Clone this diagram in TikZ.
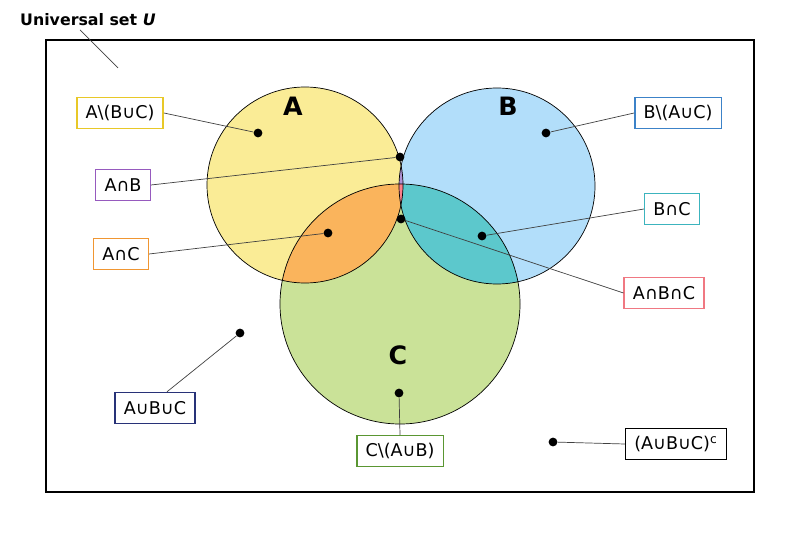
\documentclass[tikz,border=0pt]{standalone}
\usepackage{fontspec}
\setmainfont{DejaVu Sans}
\usepackage{tikz}

\definecolor{cA}{RGB}{250,236,150}
\definecolor{cB}{RGB}{178,222,250}
\definecolor{cC}{RGB}{202,226,152}
\definecolor{cAB}{RGB}{176,146,212}
\definecolor{cAC}{RGB}{250,180,92}
\definecolor{cBC}{RGB}{92,200,204}
\definecolor{cABC}{RGB}{250,128,140}
\definecolor{bA}{RGB}{232,200,40}
\definecolor{bAB}{RGB}{150,90,190}
\definecolor{bAC}{RGB}{240,150,50}
\definecolor{bU}{RGB}{40,50,120}
\definecolor{bC}{RGB}{90,150,50}
\definecolor{bB}{RGB}{60,130,200}
\definecolor{bBC}{RGB}{60,180,190}
\definecolor{bABC}{RGB}{240,120,130}

\tikzset{
    lbl/.style={draw=#1, thick, fill=white, minimum height=0.62cm, inner xsep=5pt, font=\fontsize{10}{12}\selectfont},
    dot/.style={fill=black, circle, inner sep=0pt, minimum size=5pt},
    pin/.style={black!75, thin}
}

\begin{document}
\begin{tikzpicture}[x=0.02cm, y=-0.02cm]

    % Frame of the picture
    \useasboundingbox (0,0) rectangle (800,533);

    % Circles
    \coordinate (cenA) at (305,185);
    \coordinate (cenB) at (497,186);
    \coordinate (cenC) at (400,304);
    \def\rA{98}
    \def\rB{98}
    \def\rC{120}

    % Universal set
    \draw[thick] (46,40) rectangle (754,492);
    \node[anchor=west, font=\bfseries\fontsize{9}{11}\selectfont] (uset) at (14,20) {Universal set \textit{U}};
    \coordinate (uend) at (118,68);
    \draw[pin] (80,30) -- (uend);

    % Region fills
    \fill[cA] (cenA) circle (\rA);
    \fill[cB] (cenB) circle (\rB);
    \fill[cC] (cenC) circle (\rC);
    \begin{scope}
        \clip (cenA) circle (\rA);
        \fill[cAB] (cenB) circle (\rB);
        \fill[cAC] (cenC) circle (\rC);
    \end{scope}
    \begin{scope}
        \clip (cenB) circle (\rB);
        \fill[cBC] (cenC) circle (\rC);
        \clip (cenA) circle (\rA);
        \fill[cABC] (cenC) circle (\rC);
    \end{scope}
    \draw (cenA) circle (\rA);
    \draw (cenB) circle (\rB);
    \draw (cenC) circle (\rC);

    % Set names
    \node[font=\bfseries\Large] at (293,106) {A};
    \node[font=\bfseries\Large] at (508,106) {B};
    \node[font=\bfseries\Large] at (398,355) {C};

    % Dots
    \node[dot] (dA) at (258,133) {};
    \node[dot] (dAB) at (400,157) {};
    \node[dot] (dAC) at (328,233) {};
    \node[dot] (dB) at (546,133) {};
    \node[dot] (dBC) at (482,236) {};
    \node[dot] (dABC) at (401,219) {};
    \node[dot] (dU) at (240,333) {};
    \node[dot] (dC) at (399,393) {};
    \node[dot] (dN) at (553,442) {};

    % Labels
    \node[lbl=bA] (lA) at (120,113) {A\textbackslash(B∪C)};
    \node[lbl=bAB] (lAB) at (123,185) {A∩B};
    \node[lbl=bAC] (lAC) at (121,254) {A∩C};
    \node[lbl=bU] (lU) at (155,408) {A∪B∪C};
    \node[lbl=bC] (lC) at (400,451) {C\textbackslash(A∪B)};
    \node[lbl=black] (lN) at (676,444) {(A∪B∪C)$^{\mathrm{c}}$};
    \node[lbl=bB] (lB) at (678,113) {B\textbackslash(A∪C)};
    \node[lbl=bBC] (lBC) at (672,209) {B∩C};
    \node[lbl=bABC] (lABC) at (664,293) {A∩B∩C};

    % Pointers
    \draw[pin] (lA.east) -- (dA);
    \draw[pin] (lAB.east) -- (dAB);
    \draw[pin] (lAC.east) -- (dAC);
    \draw[pin] (lB.west) -- (dB);
    \draw[pin] (lBC.west) -- (dBC);
    \draw[pin] (lABC.west) -- (dABC);
    \draw[pin] ([xshift=0.24cm]lU.north) -- (dU);
    \draw[pin] (lC.north) -- (dC);
    \draw[pin] (lN.west) -- (dN);

\end{tikzpicture}
\end{document}
